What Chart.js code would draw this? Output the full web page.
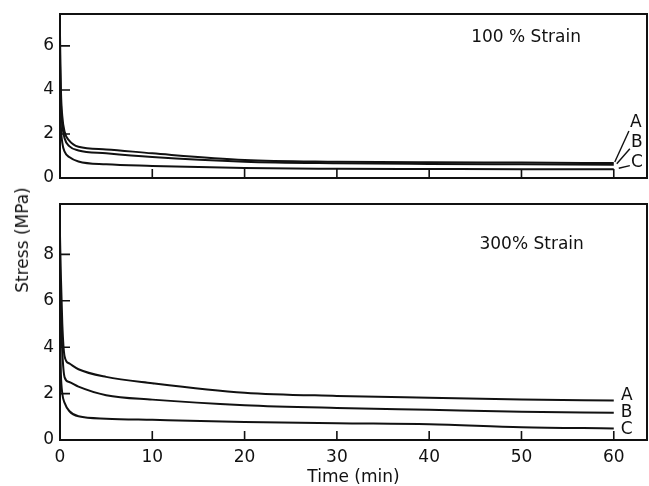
<!DOCTYPE html>
<html>
<head>
<meta charset="utf-8">
<script src="https://cdn.jsdelivr.net/npm/chart.js@4.4.1/dist/chart.umd.min.js"></script>
<style>
    body { margin: 0; background: #fff; }
    #wrap { position: relative; width: 649px; height: 486px; background: #fff; font-family: "DejaVu Sans", sans-serif; }
    #topChart { position: absolute; left: 0; top: 0; }
    #bottomChart { position: absolute; left: 0; top: 190px; }
    #yTitle {
        position: absolute; left: 22px; top: 240px;
        transform: translate(-50%, -50%) rotate(-90deg);
        font-size: 17px; white-space: nowrap; color: #111;
    }
</style>
</head>
<body>
<div id="wrap">
    <canvas id="topChart" width="649" height="190"></canvas>
    <canvas id="bottomChart" width="649" height="296"></canvas>
    <div id="yTitle">Stress (MPa)</div>
</div>
<script>
// time axis (min), shared by all curves
const timeMin = [0, 0.1, 0.25, 0.5, 1, 2, 5, 10, 20, 30, 40, 50, 60];

// 100 % strain
const stress100A = [6.5, 4.0, 2.8, 2.1, 1.7, 1.42, 1.3, 1.12, 0.82, 0.74, 0.71, 0.70, 0.68];
const stress100B = [5.2, 3.4, 2.4, 1.8, 1.45, 1.25, 1.12, 0.95, 0.74, 0.67, 0.64, 0.62, 0.60];
const stress100C = [3.8, 2.3, 1.6, 1.2, 0.95, 0.75, 0.62, 0.55, 0.45, 0.42, 0.41, 0.40, 0.40];

// 300 % strain
const stress300A = [8.8, 7.0, 5.0, 3.6, 3.3, 3.05, 2.72, 2.45, 2.04, 1.90, 1.82, 1.75, 1.70];
const stress300B = [7.5, 5.5, 3.8, 2.7, 2.5, 2.3, 1.93, 1.74, 1.50, 1.38, 1.30, 1.22, 1.17];
const stress300C = [4.5, 2.8, 2.0, 1.6, 1.25, 1.02, 0.92, 0.87, 0.78, 0.72, 0.68, 0.55, 0.50];

const curveNames = ["A", "B", "C"];
const xTickValues = [0, 10, 20, 30, 40, 50, 60];
const yTicks100 = [0, 2, 4, 6];
const yTicks300 = [0, 2, 4, 6, 8];

const ink = "#111";
const fontFamily = "'DejaVu Sans', sans-serif";

function toPoints(ys) {
    return ys.map((y, i) => ({ x: timeMin[i], y: y }));
}

// frame, inward ticks, curve letters and the strain note
const panelDecor = {
    id: "panelDecor",
    afterDatasetsDraw(chart, args, opts) {
        const ctx = chart.ctx;
        const area = chart.chartArea;
        const xs = chart.scales.x;
        const ys = chart.scales.y;
        ctx.save();
        ctx.strokeStyle = ink;
        ctx.lineWidth = 2;
        ctx.strokeRect(area.left, area.top, area.right - area.left, area.bottom - area.top);

        ctx.lineWidth = 1.6;
        ctx.beginPath();
        xs.ticks.forEach(t => {
            if (t.value === 0) return;
            const px = xs.getPixelForValue(t.value);
            ctx.moveTo(px, area.bottom);
            ctx.lineTo(px, area.bottom - 9);
        });
        ys.ticks.forEach(t => {
            if (t.value === 0) return;
            const py = ys.getPixelForValue(t.value);
            ctx.moveTo(area.left, py);
            ctx.lineTo(area.left + 10, py);
        });
        ctx.stroke();

        ctx.fillStyle = ink;
        ctx.font = "17px " + fontFamily;
        ctx.textAlign = "center";
        ctx.textBaseline = "middle";
        opts.letters.forEach((lb, i) => {
            const lx = xs.getPixelForValue(lb.x);
            const ly = ys.getPixelForValue(lb.y);
            ctx.fillText(curveNames[i], lx, ly);
            if (opts.leaders) {
                const ds = chart.data.datasets[i].data;
                const end = ds[ds.length - 1];
                const ex = xs.getPixelForValue(end.x);
                const ey = ys.getPixelForValue(end.y);
                ctx.lineWidth = 1.4;
                ctx.beginPath();
                ctx.moveTo(ex + 1 + i * 2, ey - 1);
                ctx.lineTo(lx - 7, ly + opts.leaderDy[i]);
                ctx.stroke();
            }
        });

        ctx.textAlign = "center";
        ctx.fillText(opts.note.text, xs.getPixelForValue(opts.note.x), ys.getPixelForValue(opts.note.y));
        ctx.restore();
    }
};

function makeChart(canvasId, series, yMax, yTicks, showX, decor) {
    return new Chart(document.getElementById(canvasId), {
        type: "line",
        data: {
            datasets: series.map((s, i) => ({
                label: curveNames[i],
                data: toPoints(s),
                borderColor: ink,
                borderWidth: 2,
                pointRadius: 0,
                fill: false,
                cubicInterpolationMode: "monotone"
            }))
        },
        options: {
            responsive: false,
            animation: false,
            layout: { padding: { left: 0, right: 2, top: 14, bottom: showX ? 0 : 12 } },
            plugins: {
                legend: { display: false },
                tooltip: { enabled: false },
                panelDecor: decor
            },
            scales: {
                x: {
                    type: "linear",
                    min: 0,
                    max: 63.6,
                    display: showX,
                    afterBuildTicks: s => { s.ticks = xTickValues.map(v => ({ value: v })); },
                    afterFit: s => { s.height = showX ? 46 : 0; },
                    grid: { display: false, drawTicks: false },
                    border: { display: false },
                    ticks: { color: ink, font: { family: fontFamily, size: 17 }, padding: 7, maxRotation: 0 },
                    title: {
                        display: true,
                        text: "Time (min)",
                        color: ink,
                        font: { family: fontFamily, size: 17, lineHeight: 1.0 },
                        padding: { top: 0, bottom: 0 }
                    }
                },
                y: {
                    type: "linear",
                    min: 0,
                    max: yMax,
                    afterBuildTicks: s => { s.ticks = yTicks.map(v => ({ value: v })); },
                    afterFit: s => {
                        s.width = 60;
                        s.paddingTop = 0;
                        s.paddingBottom = 0;
                    },
                    grid: { display: false, drawTicks: false },
                    border: { display: false },
                    ticks: { color: ink, font: { family: fontFamily, size: 17 }, padding: 6 }
                }
            }
        },
        plugins: [panelDecor]
    });
}

makeChart("topChart", [stress100A, stress100B, stress100C], 7.45, yTicks100, false, {
    note: { text: "100 % Strain", x: 50.5, y: 6.4 },
    letters: [{ x: 62.4, y: 2.5 }, { x: 62.5, y: 1.6 }, { x: 62.5, y: 0.7 }],
    leaders: true,
    leaderDy: [8, 6, 3]
});

makeChart("bottomChart", [stress300A, stress300B, stress300C], 10.17, yTicks300, true, {
    note: { text: "300% Strain", x: 51.1, y: 8.43 },
    letters: [{ x: 61.4, y: 1.91 }, { x: 61.4, y: 1.17 }, { x: 61.4, y: 0.43 }],
    leaders: false,
    leaderDy: [0, 0, 0]
});
</script>
</body>
</html>
